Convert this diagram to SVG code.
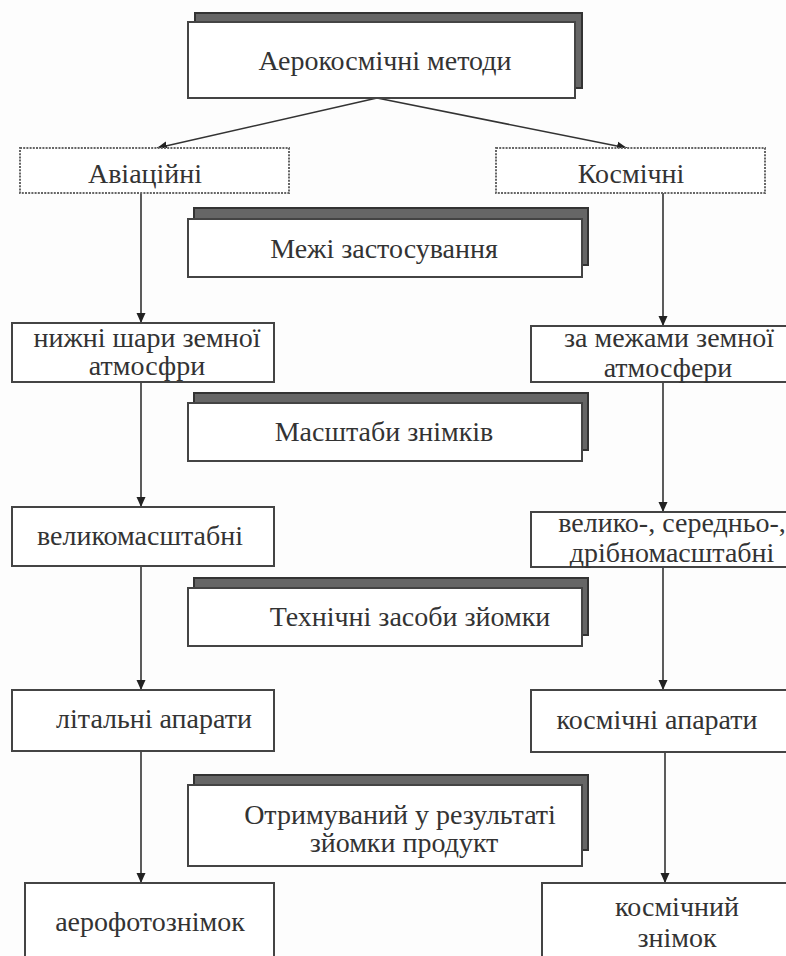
<svg xmlns="http://www.w3.org/2000/svg" width="786" height="956" viewBox="0 0 786 956">
<defs>
<marker id="ah" markerWidth="10" markerHeight="12" refX="10" refY="6" orient="auto" markerUnits="userSpaceOnUse">
<path d="M0,1.5 L10,6 L0,10.5 Z" fill="#222"/>
</marker>
<style>
.box{fill:#fff;stroke:#444;stroke-width:2}
.dash{fill:#fff;stroke:#666;stroke-width:2;stroke-dasharray:2 1.2}
.sh{fill:#666;stroke:#333;stroke-width:2}
text{font-size:28px;fill:#333;text-anchor:middle}
.c{stroke:#333;stroke-width:1.6;fill:none;marker-end:url(#ah)}
</style>
</defs>
<rect width="786" height="956" fill="#fdfdfd"/>
<g id="connectors">
<line class="c" x1="377" y1="98" x2="157" y2="148"/>
<line class="c" x1="377" y1="98" x2="627" y2="148"/>
<line class="c" x1="141" y1="193" x2="141" y2="323"/>
<line class="c" x1="663" y1="193" x2="663" y2="326"/>
<line class="c" x1="141" y1="382" x2="141" y2="507"/>
<line class="c" x1="663" y1="382" x2="663" y2="512"/>
<line class="c" x1="141" y1="566" x2="141" y2="690"/>
<line class="c" x1="663" y1="567" x2="663" y2="690"/>
<line class="c" x1="141" y1="751" x2="141" y2="883"/>
<line class="c" x1="665" y1="752" x2="665" y2="883"/>
</g>
<g font-family="'Liberation Serif', 'DejaVu Serif', serif">
<g id="n-top">
<rect class="sh" x="195" y="13" width="387" height="75"/>
<rect class="box" x="188" y="22" width="387" height="76"/>
<text x="385" y="70">Аерокосмічні методи</text>
</g>
<g id="n-avia">
<rect class="dash" x="20" y="148" width="269" height="45"/>
<text x="145" y="183">Авіаційні</text>
</g>
<g id="n-kosm">
<rect class="dash" x="496" y="148" width="269" height="45"/>
<text x="631" y="183">Космічні</text>
</g>
<g id="n-mezhi">
<rect class="sh" x="194" y="208" width="394" height="57"/>
<rect class="box" x="188" y="219" width="394" height="58"/>
<text x="384" y="258">Межі застосування</text>
</g>
<g id="n-nyzhni">
<rect class="box" x="12" y="323" width="262" height="59"/>
<text x="147" y="347">нижні шари земної</text>
<text x="147" y="375">атмосфри</text>
</g>
<g id="n-za">
<rect class="box" x="531" y="326" width="262" height="56"/>
<text x="669" y="347">за межами земної</text>
<text x="668" y="377">атмосфери</text>
</g>
<g id="n-masshtaby">
<rect class="sh" x="194" y="393" width="394" height="57"/>
<rect class="box" x="188" y="403" width="394" height="58"/>
<text x="384" y="441">Масштаби знімків</text>
</g>
<g id="n-velyko">
<rect class="box" x="12" y="507" width="262" height="59"/>
<text x="140" y="545">великомасштабні</text>
</g>
<g id="n-velyko2">
<rect class="box" x="531" y="512" width="262" height="55"/>
<text x="672" y="532">велико-, середньо-,</text>
<text x="672" y="562">дрібномасштабні</text>
</g>
<g id="n-tekhn">
<rect class="sh" x="194" y="578" width="394" height="57"/>
<rect class="box" x="188" y="588" width="394" height="58"/>
<text x="410" y="626">Технічні засоби зйомки</text>
</g>
<g id="n-lit">
<rect class="box" x="12" y="690" width="262" height="61"/>
<text x="154" y="728">літальні апарати</text>
</g>
<g id="n-kosmap">
<rect class="box" x="531" y="690" width="262" height="62"/>
<text x="657" y="729">космічні апарати</text>
</g>
<g id="n-otr">
<rect class="sh" x="194" y="775" width="394" height="75"/>
<rect class="box" x="188" y="785" width="394" height="81"/>
<text x="400" y="824">Отримуваний у результаті</text>
<text x="404" y="852">зйомки продукт</text>
</g>
<g id="n-aero">
<rect class="box" x="25" y="883" width="249" height="85"/>
<text x="150" y="931">аерофотознімок</text>
</g>
<g id="n-kosmzn">
<rect class="box" x="542" y="883" width="250" height="85"/>
<text x="677" y="916">космічний</text>
<text x="677" y="947">знімок</text>
</g>
</g>
</svg>
